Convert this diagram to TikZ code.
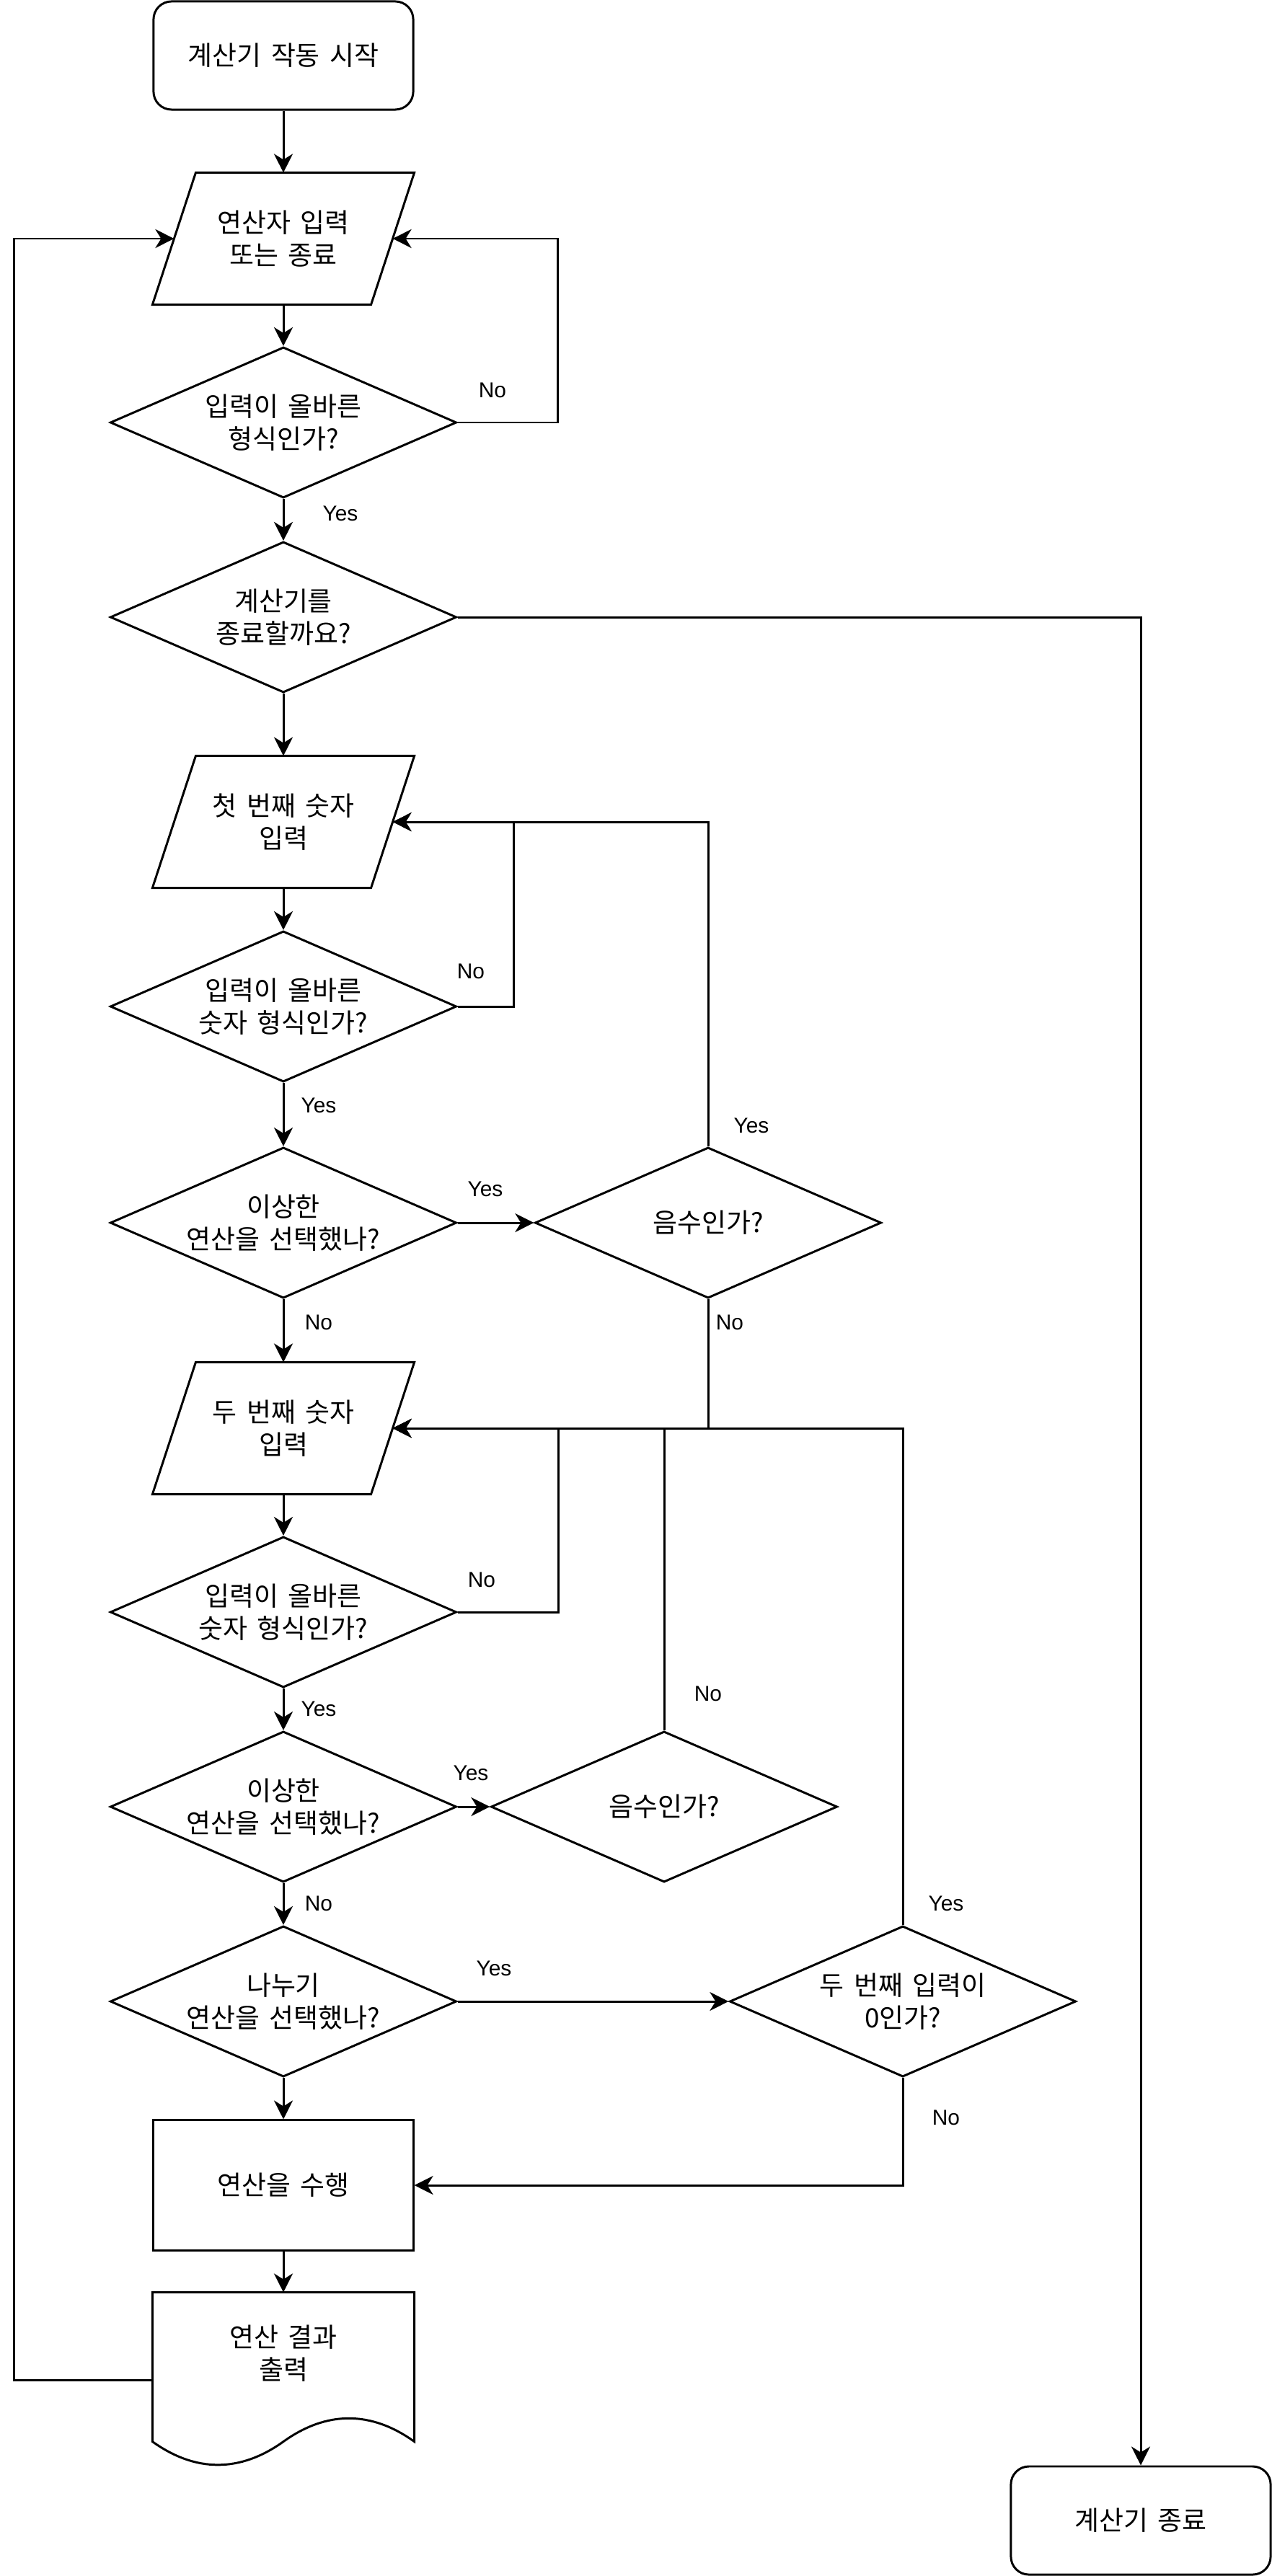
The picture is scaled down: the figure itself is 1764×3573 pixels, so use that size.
\documentclass[tikz,border=0pt]{standalone}
\usepackage{fontspec}
\setmainfont{Liberation Sans}
\newfontfamily\kr[WordSpace=1.6]{Noto Sans CJK KR}
\usetikzlibrary{shapes.geometric,arrows.meta}

\newcommand{\krtext}{\kr\fontsize{10.5}{12.8}\selectfont}

\tikzset{
  shapeline/.style={line width=0.85pt},
  flow/.style={shapeline, draw, align=center, inner sep=0pt, font=\krtext},
  term/.style={flow, rounded corners=0.25cm, minimum width=3.6cm, minimum height=1.5cm},
  io/.style={flow, draw=none, minimum width=3cm, minimum height=1.8cm},
  proc/.style={flow, minimum width=3.6cm, minimum height=1.8cm},
  dec/.style={flow, diamond, shape aspect=2.3, minimum width=4.8cm, minimum height=2.09cm},
  docu/.style={flow, draw=none, minimum width=3.6cm, minimum height=2.4cm},
  lbl/.style={font=\fontsize{8.5}{10}\selectfont, inner sep=0pt},
  arr/.style={shapeline, -{Stealth[length=0.26cm,width=0.26cm,inset=0.08cm]}}
}

\begin{document}
\begin{tikzpicture}[x=0.01cm, y=-0.01cm]
    \useasboundingbox (0,0) rectangle (1764,3573);

    % main column
    \node[term] (start) at (393,77) {계산기 작동 시작};
    \node[io] (in1) at (393,331) {연산자 입력\\또는 종료};
    \node[dec] (chk1) at (393,586) {입력이 올바른\\형식인가?};
    \node[dec] (quit) at (393,856) {계산기를\\종료할까요?};
    \node[io] (in2) at (393,1140) {첫 번째 숫자\\입력};
    \node[dec] (chk2) at (393,1396) {입력이 올바른\\숫자 형식인가?};
    \node[dec] (odd1) at (393,1696) {이상한\\연산을 선택했나?};
    \node[io] (in3) at (393,1981) {두 번째 숫자\\입력};
    \node[dec] (chk3) at (393,2236) {입력이 올바른\\숫자 형식인가?};
    \node[dec] (odd2) at (393,2506) {이상한\\연산을 선택했나?};
    \node[dec] (div) at (393,2776) {나누기\\연산을 선택했나?};
    \node[proc] (calc) at (393,3031) {연산을 수행};
    \node[docu] (out) at (393,3301) {};
    \node[flow, draw=none] (outtxt) at (393,3264) {연산 결과\\출력};

    % right side
    \node[dec] (neg1) at (982,1696) {음수인가?};
    \node[dec] (neg2) at (921,2506) {음수인가?};
    \node[dec] (zero) at (1252,2776) {두 번째 입력이\\0인가?};
    \node[term] (stop) at (1582,3496) {계산기 종료};

    % parallelograms and document
    \foreach \n in {in1,in2,in3}
        \draw[shapeline] ([xshift=0.3cm]\n.north west) -- ([xshift=0.3cm]\n.north east)
            -- ([xshift=-0.3cm]\n.south east) -- ([xshift=-0.3cm]\n.south west) -- cycle;
    \draw[shapeline] (out.north west) -- (out.north east) -- ([yshift=0.36cm]out.south east)
        .. controls +(-60,-43) and +(60,-43) .. ([yshift=0.36cm]out.south)
        .. controls +(-60,43) and +(60,43) .. ([yshift=0.36cm]out.south west) -- cycle;

    % straight down
    \foreach \a/\b in {start/in1, in1/chk1, chk1/quit, quit/in2, in2/chk2, chk2/odd1,
        odd1/in3, in3/chk3, chk3/odd2, odd2/div, div/calc, calc/out}
        \draw[arr] (\a.south) -- (\b.north);

    % sideways
    \draw[arr] (chk1.east) -- ++(139,0) |- (in1.east); % No
    \draw[arr] (quit.east) -| (stop.north); % quit
    \draw[arr] (chk2.east) -- ++(78,0) |- (in2.east); % No
    \draw[arr] (odd1.east) -- (neg1.west);
    \draw[arr] (neg1.north) |- (in2.east);
    \draw[arr] (neg1.south) |- (in3.east);
    \draw[arr] (chk3.east) -- ++(140,0) |- (in3.east); % No
    \draw[arr] (odd2.east) -- (neg2.west);
    \draw[arr] (neg2.north) |- (in3.east);
    \draw[arr] (div.east) -- (zero.west);
    \draw[arr] (zero.north) |- (in3.east);
    \draw[arr] (zero.south) |- (calc.east);
    \draw[arr] (out.west) -- ++(-192,0) |- (in1.west); % back to start

    % Yes / No
    \node[lbl] (no1) at (683,541) {No};
    \node[lbl] (yes1) at (472,712) {Yes};
    \node[lbl] (no2) at (653,1347) {No};
    \node[lbl] (yes2) at (442,1533) {Yes};
    \node[lbl] (yes3) at (673,1649) {Yes};
    \node[lbl] (yes4) at (1042,1561) {Yes};
    \node[lbl] (no3) at (442,1834) {No};
    \node[lbl] (no4) at (1012,1834) {No};
    \node[lbl] (no5) at (668,2191) {No};
    \node[lbl] (yes5) at (442,2370) {Yes};
    \node[lbl] (yes6) at (653,2459) {Yes};
    \node[lbl] (no6) at (982,2349) {No};
    \node[lbl] (no7) at (442,2640) {No};
    \node[lbl] (yes7) at (685,2730) {Yes};
    \node[lbl] (yes8) at (1312,2640) {Yes};
    \node[lbl] (no8) at (1312,2937) {No};
\end{tikzpicture}
\end{document}
